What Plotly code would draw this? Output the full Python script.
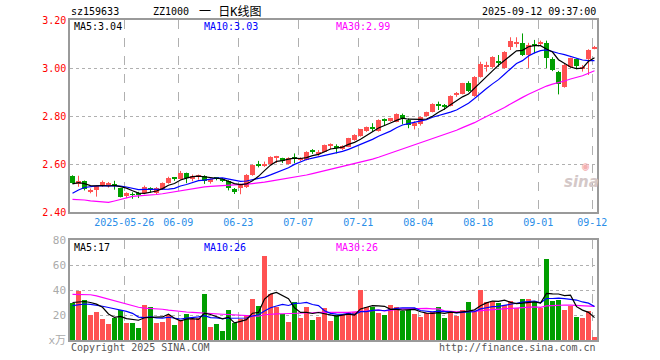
import pandas as pd
import plotly.graph_objects as go

# ---------------- data ----------------
dates = [d.strftime("%Y-%m-%d") for d in pd.bdate_range("2025-05-13", "2025-09-12") if d.strftime("%Y-%m-%d") != "2025-06-02"]

opens = [2.551, 2.517, 2.529, 2.483, 2.492, 2.510, 2.511, 2.517, 2.499, 2.468,
         2.474, 2.476, 2.478, 2.499, 2.478, 2.495, 2.521, 2.543, 2.537, 2.562,
         2.537, 2.547, 2.550, 2.524, 2.541, 2.536, 2.529, 2.497, 2.500, 2.505,
         2.556, 2.598, 2.594, 2.599, 2.628, 2.624, 2.601, 2.626, 2.617, 2.617,
         2.656, 2.642, 2.651, 2.677, 2.672, 2.662, 2.672, 2.700, 2.717, 2.737,
         2.751, 2.737, 2.784, 2.783, 2.776, 2.804, 2.783, 2.758, 2.765, 2.800,
         2.818, 2.847, 2.843, 2.842, 2.888, 2.892, 2.939, 2.883, 2.964, 3.007,
         3.005, 3.030, 2.999, 3.089, 3.100, 3.106, 3.054, 3.097, 3.098, 3.106,
         3.036, 2.985, 2.922, 3.005, 3.036, 2.998, 3.036, 3.082]
highs = [2.553, 2.551, 2.531, 2.498, 2.511, 2.531, 2.525, 2.530, 2.500, 2.482,
         2.482, 2.484, 2.510, 2.503, 2.504, 2.523, 2.547, 2.545, 2.571, 2.564,
         2.556, 2.556, 2.553, 2.540, 2.545, 2.541, 2.532, 2.500, 2.518, 2.558,
         2.598, 2.613, 2.610, 2.632, 2.634, 2.626, 2.628, 2.644, 2.628, 2.653,
         2.662, 2.658, 2.681, 2.686, 2.682, 2.678, 2.709, 2.724, 2.746, 2.756,
         2.770, 2.786, 2.790, 2.792, 2.811, 2.810, 2.790, 2.778, 2.798, 2.818,
         2.853, 2.860, 2.850, 2.886, 2.900, 2.938, 2.945, 2.966, 3.026, 3.026,
         3.049, 3.054, 3.070, 3.128, 3.128, 3.144, 3.105, 3.117, 3.114, 3.114,
         3.045, 2.988, 3.020, 3.043, 3.040, 3.012, 3.078, 3.092]
lows = [2.518, 2.505, 2.490, 2.478, 2.464, 2.505, 2.502, 2.493, 2.461, 2.458,
        2.455, 2.458, 2.474, 2.480, 2.474, 2.492, 2.518, 2.530, 2.535, 2.520,
        2.528, 2.535, 2.517, 2.518, 2.532, 2.525, 2.490, 2.475, 2.474, 2.500,
        2.551, 2.586, 2.588, 2.597, 2.604, 2.604, 2.598, 2.603, 2.612, 2.615,
        2.642, 2.634, 2.649, 2.661, 2.644, 2.658, 2.670, 2.697, 2.714, 2.734,
        2.735, 2.735, 2.762, 2.776, 2.774, 2.765, 2.749, 2.744, 2.760, 2.797,
        2.815, 2.825, 2.825, 2.840, 2.880, 2.890, 2.900, 2.880, 2.960, 2.985,
        3.000, 3.005, 2.997, 3.075, 3.086, 3.050, 3.000, 3.061, 3.092, 3.000,
        2.987, 2.890, 2.918, 3.000, 2.995, 2.985, 2.971, 3.078]
closes = [2.520, 2.530, 2.495, 2.492, 2.508, 2.527, 2.520, 2.509, 2.464, 2.478,
          2.471, 2.472, 2.505, 2.490, 2.500, 2.520, 2.543, 2.540, 2.564, 2.540,
          2.550, 2.552, 2.528, 2.537, 2.539, 2.532, 2.501, 2.482, 2.515, 2.555,
          2.596, 2.595, 2.600, 2.630, 2.633, 2.611, 2.626, 2.623, 2.622, 2.651,
          2.653, 2.651, 2.679, 2.679, 2.669, 2.675, 2.707, 2.721, 2.744, 2.753,
          2.748, 2.783, 2.781, 2.790, 2.807, 2.793, 2.762, 2.772, 2.795, 2.815,
          2.850, 2.845, 2.841, 2.883, 2.894, 2.936, 2.904, 2.964, 3.015, 3.010,
          3.047, 3.021, 3.068, 3.112, 3.110, 3.056, 3.096, 3.094, 3.110, 3.040,
          2.993, 2.935, 3.013, 3.040, 3.008, 3.003, 3.075, 3.089]
volumes = [29.3, 39.5, 32.0, 20.0, 22.7, 16.8, 12.8, 17.9, 24.0, 13.9,
           13.9, 9.3, 28.0, 26.4, 13.9, 14.7, 20.0, 12.0, 16.0, 20.5,
           16.8, 17.3, 36.8, 10.7, 12.8, 7.2, 24.0, 13.9, 16.5, 20.0,
           32.8, 27.2, 67.2, 36.5, 26.7, 20.5, 14.7, 30.7, 17.9, 26.7,
           16.0, 18.7, 25.9, 15.2, 20.0, 20.0, 22.1, 22.1, 40.0, 26.7,
           26.7, 21.3, 20.0, 28.0, 26.7, 23.2, 24.0, 20.5, 18.7, 21.3,
           22.1, 26.7, 17.9, 23.2, 19.5, 24.0, 30.7, 23.2, 40.0, 30.7,
           31.2, 29.3, 28.0, 31.2, 25.9, 32.8, 32.8, 30.1, 25.9, 64.8,
           31.2, 32.0, 24.0, 27.5, 18.7, 17.3, 23.2, 2.7]

# moving-average values at the start of the window (need data before the window)
ma5_head = [2.517, 2.522, 2.518, 2.510]
ma10_head = [2.478, 2.492, 2.502, 2.507, 2.509, 2.510, 2.510, 2.510, 2.508]
ma30_head = [2.453, 2.453, 2.450, 2.446, 2.445, 2.442, 2.440, 2.446, 2.452, 2.460,
             2.465, 2.467, 2.468, 2.470, 2.473, 2.476, 2.480, 2.484, 2.490, 2.495,
             2.498, 2.502, 2.505, 2.507, 2.508, 2.509, 2.511, 2.512, 2.514]
vma5_head = [30.0, 30.5, 30.8, 30.0]
vma10_head = [27.5, 28.2, 28.8, 28.5, 28.0, 27.0, 26.0, 25.0, 24.5]
vma30_head = [36.5, 36.5, 36.5, 36.2, 35.3, 34.0, 32.5, 31.3, 30.0, 28.5,
              27.1, 26.2, 25.5, 25.3, 25.3, 24.6, 23.9, 23.2, 22.8, 22.4,
              22.1, 21.7, 21.3, 21.1, 20.9, 20.6, 20.4, 20.2, 20.1]

tick_dates = ["2025-05-26", "2025-06-09", "2025-06-23", "2025-07-07", "2025-07-21",
              "2025-08-04", "2025-08-18", "2025-09-01", "2025-09-12"]
tick_labels = ["2025-05-26", "06-09", "06-23", "07-07", "07-21", "08-04", "08-18", "09-01", "09-12"]
price_ticks = [2.40, 2.60, 2.80, 3.00, 3.20]
vol_ticks = [0, 20, 40, 60, 80]
vol_tick_labels = ["x万", "20", "40", "60", "80"]

# ---------------- derived ----------------
n = len(dates)
idx = list(range(n))
RED = "#ff5252"
GREEN = "#009e00"


def ma(values, w, head):
    s = pd.Series(values).rolling(w).mean().tolist()
    return head + s[len(head):]


ma5 = ma(closes, 5, ma5_head)
ma10 = ma(closes, 10, ma10_head)
ma30 = ma(closes, 30, ma30_head)
vma5 = ma(volumes, 5, vma5_head)
vma10 = ma(volumes, 10, vma10_head)
vma30 = ma(volumes, 30, vma30_head)

up = [c >= o for o, c in zip(opens, closes)]
colors = [RED if u else GREEN for u in up]
base = [min(o, c) for o, c in zip(opens, closes)]
body = [max(abs(c - o), 0.0035) for o, c in zip(opens, closes)]

fig = go.Figure()

# wicks
for flag, col in ((True, RED), (False, GREEN)):
    wx, wy = [], []
    for i in idx:
        if up[i] == flag:
            wx += [i, i, None]
            wy += [lows[i], highs[i], None]
    fig.add_trace(go.Scatter(x=wx, y=wy, mode="lines", line=dict(color=col, width=1),
                             hoverinfo="skip", showlegend=False, xaxis="x", yaxis="y"))

# bodies
fig.add_trace(go.Bar(x=idx, y=body, base=base, width=0.8, marker=dict(color=colors, line=dict(width=0)),
                     hoverinfo="skip", showlegend=False, xaxis="x", yaxis="y"))

for vals, col in ((ma30, "#ff00ff"), (ma10, "#0000ff"), (ma5, "#000000")):
    fig.add_trace(go.Scatter(x=idx, y=vals, mode="lines", line=dict(color=col, width=1.2),
                             hoverinfo="skip", showlegend=False, xaxis="x", yaxis="y"))

# volume
fig.add_trace(go.Bar(x=idx, y=volumes, width=0.8, marker=dict(color=colors, line=dict(width=0)),
                     hoverinfo="skip", showlegend=False, xaxis="x2", yaxis="y2"))
for vals, col in ((vma30, "#ff00ff"), (vma10, "#0000ff"), (vma5, "#000000")):
    fig.add_trace(go.Scatter(x=idx, y=vals, mode="lines", line=dict(color=col, width=1.2),
                             hoverinfo="skip", showlegend=False, xaxis="x2", yaxis="y2"))

W, H = 660, 360
L, R = 70, 597
xr = [-2.5 / 6, -2.5 / 6 + (R - L) / 6]
tickpos = [dates.index(d) - 0.37 for d in tick_dates]
MONO = "DejaVu Sans Mono, Noto Sans CJK SC, monospace"
BORDER = "#9a9a9a"
GRID = "#b0b0b0"

common_x = dict(domain=[L / W, R / W], range=xr, tickvals=tickpos, showgrid=True, gridcolor=GRID,
                griddash="dash", gridwidth=1, showline=True, linecolor=BORDER, linewidth=1.5,
                mirror=True, ticks="", zeroline=False, fixedrange=True, automargin=False)
common_y = dict(showgrid=True, gridcolor=GRID, griddash="dot", gridwidth=1, showline=True,
                linecolor=BORDER, linewidth=1.5, mirror=True, ticks="", zeroline=False,
                fixedrange=True, automargin=False)

fig.update_layout(
    width=W, height=H, autosize=False,
    margin=dict(l=0, r=0, t=0, b=0, pad=0, autoexpand=False),
    paper_bgcolor="white", plot_bgcolor="white", bargap=0, barmode="overlay", showlegend=False,
    font=dict(family=MONO, size=10, color="#000"),
    xaxis=dict(**common_x, anchor="y", ticktext=tick_labels,
               tickfont=dict(family=MONO, size=10, color="#2a8ee8")),
    xaxis2=dict(**common_x, anchor="y2", showticklabels=False),
    yaxis=dict(**common_y, domain=[(H - 212) / H, (H - 20) / H], range=[2.40, 3.20], tickvals=price_ticks,
               ticktext=[f"{v:.2f}" for v in price_ticks], tickfont=dict(family=MONO, size=10, color="#ff0000")),
    yaxis2=dict(**common_y, domain=[(H - 340) / H, (H - 240) / H], range=[0, 80], tickvals=vol_ticks,
                ticktext=vol_tick_labels, tickfont=dict(family=MONO, size=11, color="#aaaaaa")),
)


def txt(x, y, s, color="#000", size=10, anchor="left", family=MONO):
    fig.add_annotation(x=x / W, y=1 - y / H, xref="paper", yref="paper", text=s, showarrow=False,
                       xanchor=anchor, yanchor="middle", font=dict(family=family, size=size, color=color))


txt(69, 12, "sz159633")
txt(151, 12, "ZZ1000")
txt(197, 12, "一 日K线图", size=12)
txt(598, 12, "2025-09-12 09:37:00", anchor="right")
txt(72, 27, "MA5:3.04")
txt(202, 27, "MA10:3.03", color="#0000ff")
txt(334, 27, "MA30:2.99", color="#ff00ff")
txt(72, 247, "MA5:17")
txt(202, 247, "MA10:26", color="#0000ff")
txt(334, 247, "MA30:26", color="#ff00ff")
txt(69, 347, "Copyright 2025 SINA.COM", color="#555")
txt(598, 347, "http://finance.sina.com.cn", color="#555", anchor="right")
txt(585, 166, "◉", color="#f4b0b0", size=12, anchor="center")
txt(581, 182, "<i><b>sina</b></i>", color="#d4c8c8", size=15, anchor="center", family="DejaVu Sans")

fig.write_html("out.html", config={"displayModeBar": False},
               post_script="document.body.style.margin='0px';document.body.style.overflow='hidden';")
